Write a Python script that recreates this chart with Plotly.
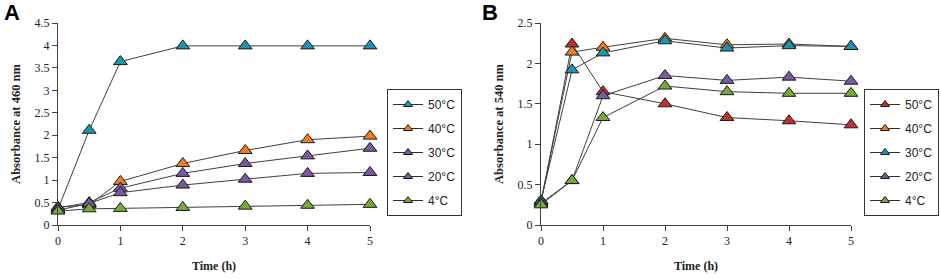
import plotly.graph_objects as go

time = [0, 0.5, 1, 2, 3, 4, 5]
labels = ["50°C", "40°C", "30°C", "20°C", "4°C"]

# Panel A: absorbance at 460 nm
a_50 = [0.35, 2.11, 3.64, 3.99, 3.99, 3.99, 3.99]
a_40 = [0.40, 0.45, 0.97, 1.37, 1.66, 1.90, 1.98]
a_30 = [0.38, 0.50, 0.82, 1.15, 1.37, 1.54, 1.71]
a_20 = [0.33, 0.48, 0.72, 0.89, 1.02, 1.15, 1.17]
a_4 = [0.31, 0.36, 0.37, 0.39, 0.42, 0.44, 0.46]
colors_a = ["#1E93AB", "#F07C1E", "#7A5A9E", "#7A5A9E", "#77A83A"]

# Panel B: absorbance at 540 nm
b_50 = [0.28, 2.24, 1.65, 1.50, 1.33, 1.29, 1.24]
b_40 = [0.30, 2.14, 2.20, 2.31, 2.23, 2.24, 2.21]
b_30 = [0.30, 1.92, 2.13, 2.28, 2.19, 2.22, 2.21]
b_20 = [0.27, 0.55, 1.60, 1.85, 1.79, 1.83, 1.78]
b_4 = [0.25, 0.55, 1.33, 1.72, 1.65, 1.63, 1.63]
colors_b = ["#C0302E", "#F07C1E", "#1E93AB", "#7A5A9E", "#77A83A"]

ticks_a = [0, 0.5, 1, 1.5, 2, 2.5, 3, 3.5, 4, 4.5]
ticks_b = [0, 0.5, 1, 1.5, 2, 2.5]
xticks = [0, 1, 2, 3, 4, 5]

W, H = 941, 279
fig = go.Figure()

def add(series, colors, xa, ya, leg, tag):
    for name, ys, c in zip(labels, series, colors):
        fig.add_trace(go.Scatter(
            x=time, y=ys, name=name, mode="lines+markers",
            xaxis=xa, yaxis=ya, showlegend=False, cliponaxis=False,
            line=dict(color="#404040", width=1),
            marker=dict(symbol="triangle-up", size=12, color=c,
                        line=dict(color="#1a1a1a", width=1)),
        ))
    # legend entries (smaller symbols, as in the original legend)
    for name, c in zip(labels, colors):
        fig.add_trace(go.Scatter(
            x=[None], y=[None], name=name, mode="lines+markers",
            xaxis=xa, yaxis=ya, legend=leg, legendgroup=tag + name,
            line=dict(color="#303030", width=1),
            marker=dict(symbol="triangle-up", size=8, color=c,
                        line=dict(color="#1a1a1a", width=1)),
        ))

add([a_50, a_40, a_30, a_20, a_4], colors_a, "x", "y", "legend", "a")
add([b_50, b_40, b_30, b_20, b_4], colors_b, "x2", "y2", "legend2", "b")

serif = "Liberation Serif"
sans = "Liberation Sans"

def xax(dom, anchor):
    return dict(domain=dom, range=[0, 5], tickvals=xticks, anchor=anchor,
                showline=True, linecolor="#404040", linewidth=1,
                ticks="outside", ticklen=5, tickcolor="#404040",
                showgrid=False, zeroline=False,
                tickfont=dict(family=serif, size=12, color="#222"),
                title=dict(text="<b>Time (h)</b>", font=dict(family=serif, size=12, color="#222"), standoff=14))

def yax(rng, tv, anchor, title):
    return dict(domain=[1 - 225 / H, 1 - 23 / H], range=rng, tickvals=tv, anchor=anchor,
                showline=True, linecolor="#404040", linewidth=1,
                ticks="outside", ticklen=5, tickcolor="#404040",
                showgrid=False, zeroline=False,
                tickfont=dict(family=serif, size=12, color="#222"),
                title=dict(text="<b>" + title + "</b>", font=dict(family=serif, size=12.5, color="#222"), standoff=11))

legstyle = dict(yanchor="top", xanchor="left",
                bordercolor="#333", borderwidth=1, bgcolor="white",
                font=dict(family=sans, size=12, color="#222"),
                tracegroupgap=5, itemwidth=30)

fig.update_layout(
    width=W, height=H, margin=dict(l=0, r=0, t=0, b=0, autoexpand=False),
    paper_bgcolor="white", plot_bgcolor="white",
    xaxis=xax([58 / W, 370 / W], "y"),
    yaxis=yax([0, 4.5], ticks_a, "x", "Absorbance at 460 nm"),
    xaxis2=xax([541 / W, 851 / W], "y2"),
    yaxis2=yax([0, 2.5], ticks_b, "x2", "Absorbance at 540 nm"),
    legend=dict(x=387 / W, y=1 - 89 / H, **legstyle),
    legend2=dict(x=864 / W, y=1 - 89 / H, **legstyle),
    annotations=[
        dict(text="<b>A</b>", x=0, y=1, xref="paper", yref="paper", xanchor="left", yanchor="top",
             showarrow=False, font=dict(family=sans, size=22, color="black"), xshift=2, yshift=2),
        dict(text="<b>B</b>", x=480 / W, y=1, xref="paper", yref="paper", xanchor="left", yanchor="top",
             showarrow=False, font=dict(family=sans, size=22, color="black"), yshift=2),
    ],
)

fig.write_html("out.html", config={"displayModeBar": False},
               post_script="document.body.style.margin='0';document.body.style.overflow='hidden';")
